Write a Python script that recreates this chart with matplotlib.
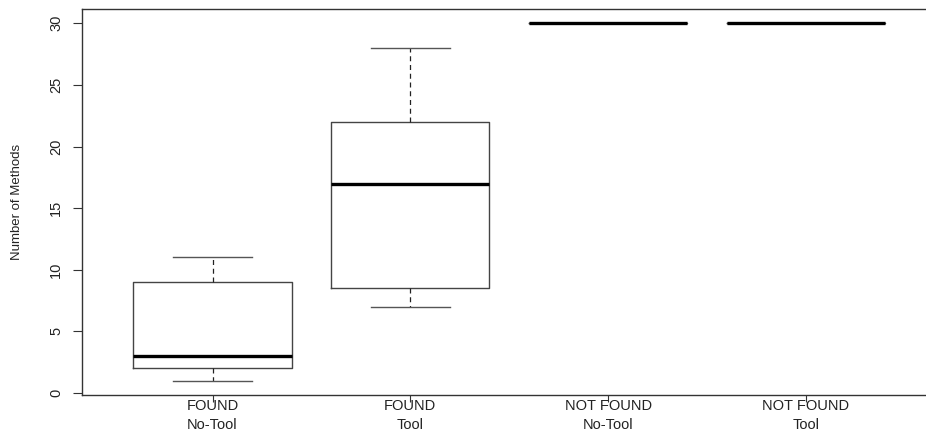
import matplotlib
matplotlib.use("Agg")
from matplotlib import pyplot as plt

plt.rcParams['font.family'] = ['Liberation Sans', 'DejaVu Sans']

labels = ['FOUND\nNo-Tool', 'FOUND\nTool', 'NOT FOUND\nNo-Tool', 'NOT FOUND\nTool']
whislo = [1, 7, 30, 30]
q1 = [2, 8.5, 30, 30]
med = [3, 17, 30, 30]
q3 = [9, 22, 30, 30]
whishi = [11, 28, 30, 30]
yticks = [0, 5, 10, 15, 20, 25, 30]

stats = [
    dict(whislo=lo, q1=a, med=m, q3=b, whishi=hi, fliers=[], label=lab)
    for lo, a, m, b, hi, lab in zip(whislo, q1, med, q3, whishi, labels)
]

W, H = 926, 436
fig = plt.figure(figsize=(W / 100, H / 100), dpi=100)
ax = fig.add_axes([82 / W, 1 - 395 / H, 1 - 82 / W, (395 - 9) / H])

ax.bxp(
    stats,
    positions=[1, 2, 3, 4],
    widths=0.8,
    capwidths=0.4,
    boxprops=dict(color='#444444', linewidth=1.0),
    whiskerprops=dict(color='#222222', linewidth=0.9, linestyle=(0, (4, 3))),
    capprops=dict(color='#555555', linewidth=1.0),
    medianprops=dict(color='black', linewidth=2.4, solid_capstyle='butt'),
    showfliers=False,
)

ax.set_xlim(0.34, 4.607)
ax.set_ylim(-0.16, 31.16)

ax.set_yticks(yticks)
ax.set_yticklabels([str(t) for t in yticks], rotation=90, va='center')
ax.tick_params(axis='y', length=6.5, width=0.8, color='#333333', pad=7,
               labelsize=10.5, labelcolor='#222222')
ax.tick_params(axis='x', length=5, width=0.8, color='#333333', pad=-2,
               labelsize=10.5, labelcolor='#222222')
ax.set_xticklabels(labels, linespacing=1.4)

for name in ['left', 'bottom', 'top']:
    ax.spines[name].set_color('#333333')
    ax.spines[name].set_linewidth(1.0)
ax.spines['right'].set_visible(False)

fig.text(17 / W, 1 - 202 / H, 'Number of Methods', rotation=90,
         ha='center', va='center', fontsize=9.5, color='#222222')

fig.savefig('out.png', dpi=100)
